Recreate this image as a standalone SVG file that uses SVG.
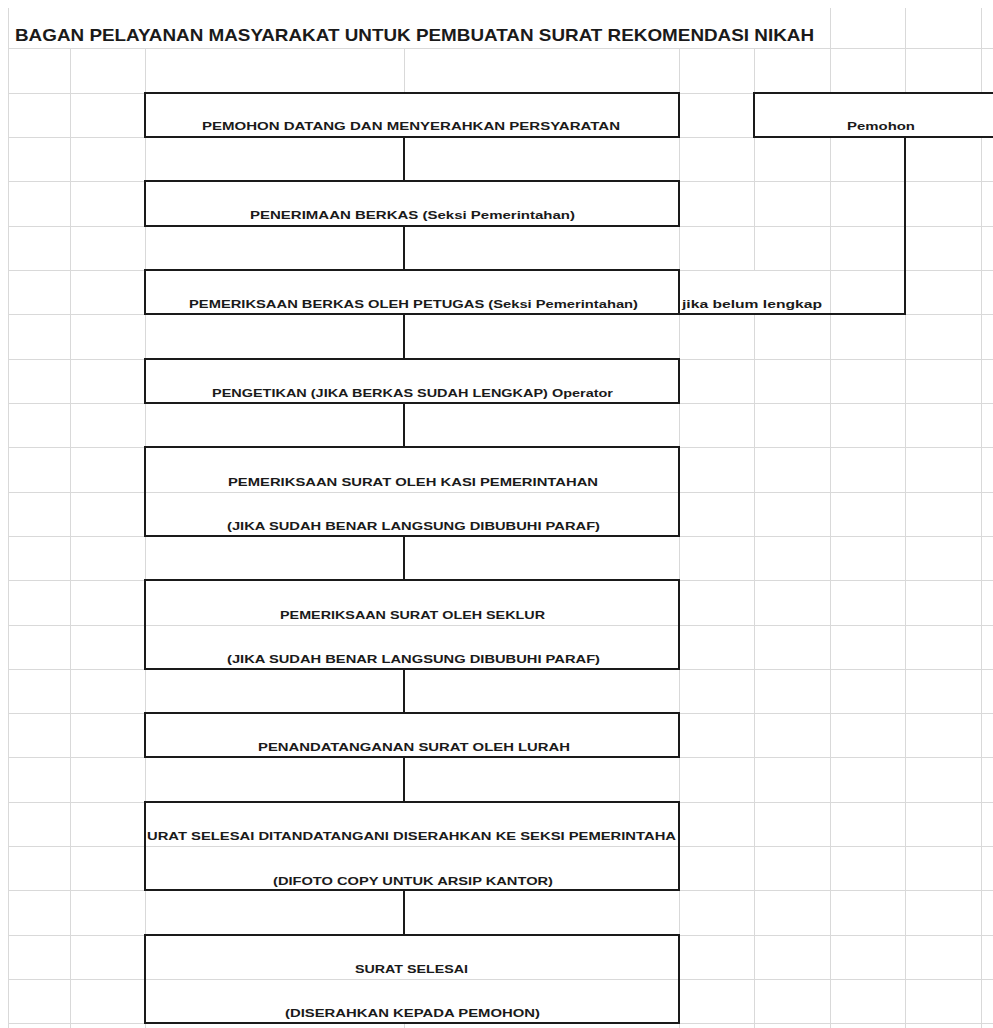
<svg xmlns="http://www.w3.org/2000/svg" width="993" height="1028" viewBox="0 0 993 1028">
<style>
.grid{stroke:#d9d9d9;stroke-width:1;fill:none}
.box{fill:#fff;stroke:#1a1a1a;stroke-width:2}
.inner{stroke:#d9d9d9;stroke-width:1}
.con{stroke:#1a1a1a;stroke-width:2;fill:none}
.t{font-family:"Liberation Sans",Arial,sans-serif;font-weight:bold;font-size:11px;fill:#1a1a1a}
.title{font-family:"Liberation Sans",Arial,sans-serif;font-weight:bold;font-size:17px;fill:#1a1a1a}
</style>
<rect x="0" y="0" width="993" height="1028" fill="#fff"/>
<g id="grid" class="grid">
<path d="M8.5 8V1028M830.5 8V1028M905.5 8V1028M981.5 8V1028M70.5 48V1028M145.5 48V1028M404.5 48V1028M679.5 48V1028M754.5 48V270M754.5 314V1028"/>
<path d="M8 48.5H993M8 93.5H993M8 137.5H993M8 181.5H993M8 226.5H993M8 270.5H993M8 314.5H993M8 359.5H993M8 403.5H993M8 447.5H993M8 492.5H993M8 536.5H993M8 580.5H993M8 625.5H993M8 669.5H993M8 713.5H993M8 757.5H993M8 802.5H993M8 846.5H993M8 890.5H993M8 935.5H993M8 979.5H993M8 1023.5H993"/>
</g>
<text class="title" x="15" y="41" textLength="799" lengthAdjust="spacingAndGlyphs">BAGAN PELAYANAN MASYARAKAT UNTUK PEMBUATAN SURAT REKOMENDASI NIKAH</text>
<g id="connectors">
<path class="con" d="M404 137V181M404 226V270M404 314V359M404 403V447M404 536V580M404 669V713M404 757V802M404 890V935"/>
<path class="con" d="M905 137V314H679"/>
</g>
<g id="n1">
<rect class="box" x="145" y="93" width="534" height="44"/>
<text class="t" x="202" y="130" textLength="418" lengthAdjust="spacingAndGlyphs">PEMOHON DATANG DAN MENYERAHKAN PERSYARATAN</text>
</g>
<g id="pemohon">
<rect class="box" x="754" y="93" width="260" height="44"/>
<text class="t" x="847" y="130" textLength="68" lengthAdjust="spacingAndGlyphs">Pemohon</text>
</g>
<g id="n2">
<rect class="box" x="145" y="181" width="534" height="45"/>
<text class="t" x="250" y="219" textLength="325" lengthAdjust="spacingAndGlyphs">PENERIMAAN BERKAS (Seksi Pemerintahan)</text>
</g>
<g id="n3">
<rect class="box" x="145" y="270" width="534" height="44"/>
<text class="t" x="189" y="308" textLength="449" lengthAdjust="spacingAndGlyphs">PEMERIKSAAN BERKAS OLEH PETUGAS (Seksi Pemerintahan)</text>
</g>
<g id="note">
<text class="t" x="682" y="308" textLength="140" lengthAdjust="spacingAndGlyphs">jika belum lengkap</text>
</g>
<g id="n4">
<rect class="box" x="145" y="359" width="534" height="44"/>
<text class="t" x="212" y="397" textLength="401" lengthAdjust="spacingAndGlyphs">PENGETIKAN (JIKA BERKAS SUDAH LENGKAP) Operator</text>
</g>
<g id="n5">
<rect class="box" x="145" y="447" width="534" height="89"/>
<path class="inner" d="M146 492.5H678"/>
<text class="t" x="228" y="486" textLength="370" lengthAdjust="spacingAndGlyphs">PEMERIKSAAN SURAT OLEH KASI PEMERINTAHAN</text>
<text class="t" x="227" y="530" textLength="373" lengthAdjust="spacingAndGlyphs">(JIKA SUDAH BENAR LANGSUNG DIBUBUHI PARAF)</text>
</g>
<g id="n6">
<rect class="box" x="145" y="580" width="534" height="89"/>
<path class="inner" d="M146 625.5H678"/>
<text class="t" x="280" y="619" textLength="265" lengthAdjust="spacingAndGlyphs">PEMERIKSAAN SURAT OLEH SEKLUR</text>
<text class="t" x="227" y="663" textLength="373" lengthAdjust="spacingAndGlyphs">(JIKA SUDAH BENAR LANGSUNG DIBUBUHI PARAF)</text>
</g>
<g id="n7">
<rect class="box" x="145" y="713" width="534" height="44"/>
<text class="t" x="258" y="751" textLength="312" lengthAdjust="spacingAndGlyphs">PENANDATANGANAN SURAT OLEH LURAH</text>
</g>
<g id="n8">
<rect class="box" x="145" y="802" width="534" height="88"/>
<path class="inner" d="M146 846.5H678"/>
<text class="t" x="147" y="840" textLength="529" lengthAdjust="spacingAndGlyphs">URAT SELESAI DITANDATANGANI DISERAHKAN KE SEKSI PEMERINTAHA</text>
<text class="t" x="273" y="885" textLength="280" lengthAdjust="spacingAndGlyphs">(DIFOTO COPY UNTUK ARSIP KANTOR)</text>
</g>
<g id="n9">
<rect class="box" x="145" y="935" width="534" height="88"/>
<path class="inner" d="M146 979.5H678"/>
<text class="t" x="355" y="973" textLength="113" lengthAdjust="spacingAndGlyphs">SURAT SELESAI</text>
<text class="t" x="285" y="1017" textLength="255" lengthAdjust="spacingAndGlyphs">(DISERAHKAN KEPADA PEMOHON)</text>
</g>
</svg>
